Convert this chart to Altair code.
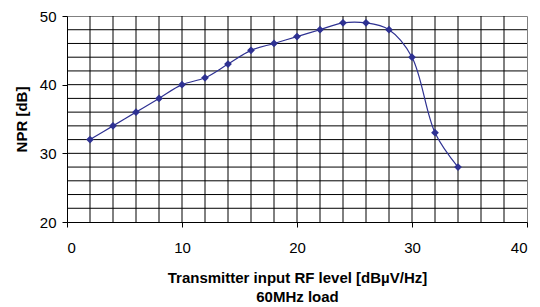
import altair as alt
import pandas as pd

rf_level = [2, 4, 6, 8, 10, 12, 14, 16, 18, 20, 22, 24, 26, 28, 30, 32, 34]
npr = [32, 34, 36, 38, 40, 41, 43, 45, 46, 47, 48, 49, 49, 48, 44, 33, 28]
x_grid = list(range(2, 40, 2))
y_grid = list(range(22, 50, 2))
x_ticks = [0, 10, 20, 30, 40]
y_ticks = [20, 30, 40, 50]

df = pd.DataFrame({"x": rf_level, "y": npr})
gx = pd.DataFrame({"x": x_grid})
gy = pd.DataFrame({"y": y_grid})

FONT = "Liberation Sans"
COLOR = "#2E3192"

xs = alt.Scale(domain=[0, 40], nice=False, zero=False)
ys = alt.Scale(domain=[20, 50], nice=False, zero=False)

xaxis = alt.Axis(values=x_ticks, grid=False, tickSize=5, tickColor="black", domainColor="black",
                 labelFont=FONT, labelFontSize=15, labelColor="black", labelPadding=13,
                 title=["Transmitter input RF level [dBµV/Hz]", "60MHz load"],
                 titleFont=FONT, titleFontSize=15, titleFontWeight="bold", titleColor="black",
                 titlePadding=15, titleLineHeight=19)
yaxis = alt.Axis(values=y_ticks, grid=False, tickSize=5, tickColor="black", domainColor="black",
                 labelFont=FONT, labelFontSize=15, labelColor="black", labelPadding=6,
                 title="NPR [dB]", titleFont=FONT, titleFontSize=15, titleFontWeight="bold",
                 titleColor="black", titlePadding=10)

vgrid = alt.Chart(gx).mark_rule(color="black", strokeWidth=1).encode(
    x=alt.X("x:Q", scale=xs, axis=xaxis))
hgrid = alt.Chart(gy).mark_rule(color="black", strokeWidth=1).encode(
    y=alt.Y("y:Q", scale=ys, axis=yaxis))
line = alt.Chart(df).mark_line(color=COLOR, strokeWidth=1.2, interpolate="catmull-rom").encode(
    x=alt.X("x:Q", scale=xs), y=alt.Y("y:Q", scale=ys))
pts = alt.Chart(df).mark_point(shape="diamond", filled=True, color=COLOR, size=60, opacity=1).encode(
    x=alt.X("x:Q", scale=xs), y=alt.Y("y:Q", scale=ys))

chart = alt.layer(vgrid, hgrid, line, pts).properties(
    width=460, height=206,
    autosize=alt.AutoSizeParams(type="none"),
    padding={"left": 59, "top": 8, "right": 5, "bottom": 85},
    background="white",
).configure_view(stroke="#808080", strokeWidth=1)

chart.save("out.html", embed_options={"renderer": "svg", "actions": False})
